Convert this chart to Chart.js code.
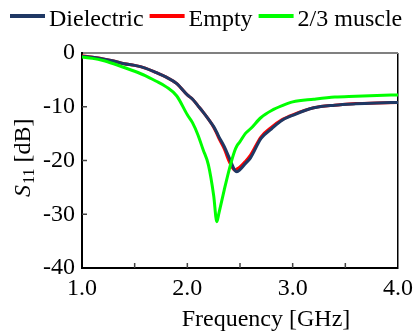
<!DOCTYPE html>
<html>
<head>
<meta charset="utf-8">
<script src="https://cdn.jsdelivr.net/npm/chart.js@4"></script>
<style>
  body { margin: 0; background: #fff; }
</style>
</head>
<body>
<canvas id="s11Chart" width="419" height="334"></canvas>
<script>
// data
const freqGHz = [1.0, 1.1, 1.2, 1.3, 1.4, 1.5, 1.6, 1.7, 1.8, 1.9, 2.0, 2.05, 2.1, 2.15, 2.2, 2.25, 2.28, 2.3, 2.35, 2.4, 2.45, 2.47, 2.5, 2.55, 2.6, 2.7, 2.8, 2.9, 3.0, 3.2, 3.4, 3.6, 3.8, 4.0];
const dielectricDb = [-0.6, -0.8, -1.1, -1.5, -2.0, -2.3, -2.8, -3.6, -4.5, -5.7, -7.8, -8.6, -9.8, -11.0, -12.3, -13.7, -14.8, -15.6, -17.4, -19.6, -21.8, -22.1, -21.7, -20.6, -19.5, -15.9, -14.1, -12.5, -11.6, -10.2, -9.7, -9.45, -9.3, -9.2];
const emptyDb = [-0.5, -0.8, -1.1, -1.5, -2.0, -2.3, -2.8, -3.6, -4.5, -5.7, -7.8, -8.6, -9.8, -11.0, -12.3, -13.8, -15.0, -15.9, -17.8, -20.3, -21.8, -21.6, -21.2, -20.2, -19.0, -15.6, -13.8, -12.4, -11.5, -10.2, -9.7, -9.4, -9.3, -9.2];
const muscleDb = [-0.75, -1.0, -1.4, -2.0, -2.7, -3.4, -4.2, -5.2, -6.3, -8.0, -11.5, -13.0, -15.2, -18.0, -20.8, -26.5, -31.4, -29.8, -25.5, -21.5, -18.2, -17.3, -16.5, -15.0, -14.1, -12.0, -10.7, -9.8, -9.1, -8.6, -8.2, -8.05, -7.9, -7.8];
const seriesNames = ["Dielectric", "Empty", "2/3 muscle"];
const seriesColors = ["#1f3864", "#ff0000", "#00ff00"];
const xTicks = [1.0, 2.0, 3.0, 4.0];
const yTicks = [0, -10, -20, -30, -40];

const serif = '"Liberation Serif", "Times New Roman", serif';
Chart.defaults.font.family = serif;
Chart.defaults.font.size = 24;
Chart.defaults.color = "#000";

function pts(ys) {
  return freqGHz.map((f, i) => ({ x: f, y: ys[i] }));
}

const allSeries = [dielectricDb, emptyDb, muscleDb];
const drawOrder = [1, 2, 0];

// legend, axis titles and the little inward tick marks
const decorPlugin = {
  id: "decor",
  afterDraw(chart) {
    const ctx = chart.ctx;
    const xs = chart.scales.x, ys = chart.scales.y;
    const a = chart.chartArea;
    ctx.save();
    ctx.strokeStyle = "#444";
    ctx.lineWidth = 1.5;
    xs.ticks.forEach((t) => {
      if (t.value <= 1 || t.value >= 4) return;
      const px = xs.getPixelForValue(t.value);
      ctx.beginPath(); ctx.moveTo(px, a.bottom); ctx.lineTo(px, a.bottom - 5); ctx.stroke();
    });
    ys.ticks.forEach((t) => {
      if (t.value >= 0 || t.value <= -40) return;
      const py = ys.getPixelForValue(t.value);
      ctx.beginPath(); ctx.moveTo(a.left, py); ctx.lineTo(a.left + 5, py); ctx.stroke();
    });

    ctx.fillStyle = "#000";
    ctx.textBaseline = "alphabetic";
    ctx.font = "24px " + serif;

    // legend row
    let lx = 10;
    chart.data.datasets.forEach((ds) => {
      ctx.fillStyle = ds.borderColor;
      ctx.fillRect(lx, 14, 35, 4);
      lx += 39;
      ctx.fillStyle = "#000";
      ctx.textAlign = "left";
      ctx.fillText(ds.label, lx, 26);
      lx += ctx.measureText(ds.label).width + 6;
    });

    ctx.textAlign = "center";
    ctx.fillText("Frequency [GHz]", 266, 326);

    // S11 [dB], rotated
    ctx.translate(30, 197);
    ctx.rotate(-Math.PI / 2);
    ctx.textAlign = "left";
    ctx.font = "italic 24px " + serif;
    ctx.fillText("S", 0, 0);
    let x = ctx.measureText("S").width + 1;
    ctx.font = "16px " + serif;
    ctx.fillText("11", x, 4);
    x += ctx.measureText("11").width + 6;
    ctx.font = "24px " + serif;
    ctx.fillText("[dB]", x, 0);
    ctx.restore();
  }
};

const chart = new Chart(document.getElementById("s11Chart"), {
  type: "line",
  data: {
    datasets: seriesNames.map((name, i) => ({
      label: name,
      data: pts(allSeries[i]),
      borderColor: seriesColors[i],
      backgroundColor: seriesColors[i],
      borderWidth: 3,
      pointRadius: 0,
      cubicInterpolationMode: "monotone",
      order: drawOrder[i],
    })),
  },
  options: {
    responsive: false,
    animation: false,
    layout: { padding: { top: 53, right: 19, left: 0, bottom: 0 } },
    plugins: { legend: { display: false }, tooltip: { enabled: false } },
    scales: {
      x: {
        type: "linear",
        min: 1,
        max: 4,
        afterFit: (s) => { s.height = 66; },
        ticks: {
          stepSize: 0.5,
          padding: 6,
          maxRotation: 0,
          autoSkip: false,
          callback: (v) => (xTicks.includes(v) ? v.toFixed(1) : ""),
        },
        grid: {
          drawTicks: false,
          lineWidth: 1.5,
          color: (c) => (c.tick && c.tick.value === 4 ? "#000" : "rgba(0,0,0,0)"),
        },
        border: { color: "#000", width: 2 },
      },
      y: {
        min: -40,
        max: 0,
        afterFit: (s) => { s.width = 82; },
        ticks: {
          stepSize: 10,
          padding: 7,
          callback: (v) => (yTicks.includes(v) ? String(v) : ""),
        },
        grid: {
          drawTicks: false,
          lineWidth: 2,
          color: (c) => (c.tick && c.tick.value === 0 ? "#808080" : "rgba(0,0,0,0)"),
        },
        border: { color: "#000", width: 2 },
      },
    },
  },
  plugins: [decorPlugin],
});
</script>
</body>
</html>
